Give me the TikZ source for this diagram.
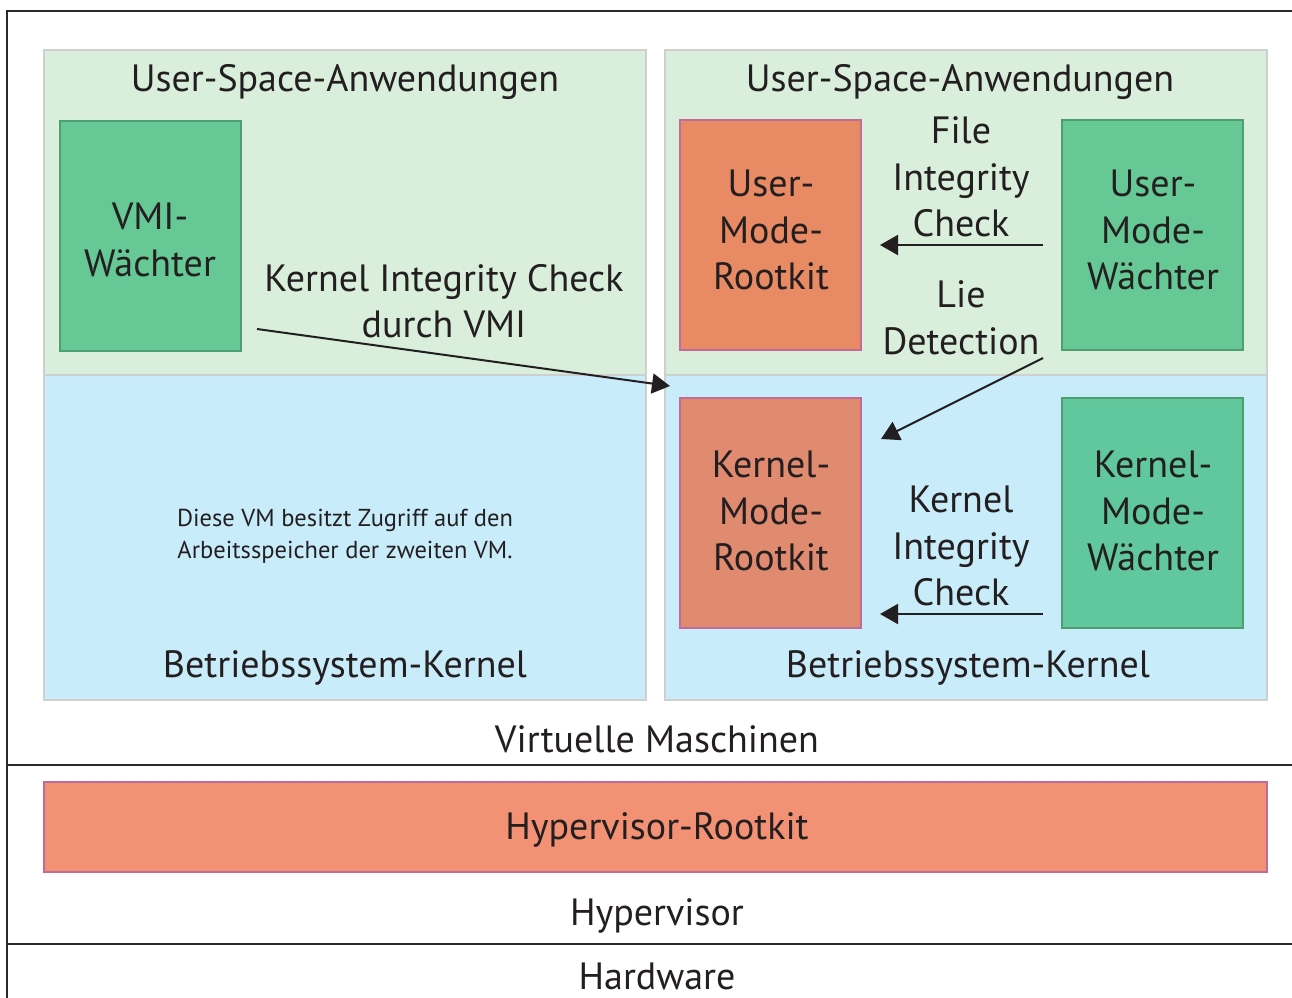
\documentclass[tikz,border=0pt]{standalone}
\usepackage{fontspec}
\setmainfont{PT Sans}
\usetikzlibrary{arrows.meta}
\definecolor{lgreen}{HTML}{D9EEDB}
\definecolor{lblue}{HTML}{C9ECFA}
\definecolor{gbox}{HTML}{66C995}
\definecolor{gboxk}{HTML}{61C79C}
\definecolor{gborder}{HTML}{4E9E72}
\definecolor{urk}{HTML}{E88A63}
\definecolor{krk}{HTML}{E08A70}
\definecolor{hrk}{HTML}{F39174}
\definecolor{pborder}{HTML}{C06C9A}
\definecolor{vmborder}{HTML}{CFCFCF}
\definecolor{frame}{HTML}{2A2A2A}
\definecolor{txt}{HTML}{231F20}
\tikzset{
  vmarea/.style={draw=vmborder, line width=2pt, minimum width=602pt, minimum height=325pt, inner sep=0pt},
  wbox/.style={draw=gborder, line width=2pt, fill=gbox, minimum width=181pt, minimum height=230pt, inner sep=0pt},
  rbox/.style={draw=pborder, line width=2pt, minimum width=181pt, minimum height=230pt, inner sep=0pt},
  big/.style={font=\fontsize{38}{46.5}\selectfont, text=txt, align=center, inner sep=0pt},
  small/.style={font=\fontsize{24.5}{32}\selectfont, text=txt, align=center, inner sep=0pt},
  arr/.style={draw=txt, line width=2pt, -{Triangle[length=18pt,width=20pt]}},
  frameline/.style={draw=frame, line width=2.5pt}
}
\begin{document}
\begin{tikzpicture}[x=1pt,y=-1pt]
\useasboundingbox (0,0) rectangle (1292,997);
\fill[white] (0,0) rectangle (1292,997);
% outer frame
\coordinate (ftl) at (7,11);
\coordinate (ftr) at (1300,11);
\coordinate (fbl) at (7,1005);
\coordinate (h1l) at (7,765);
\coordinate (h1r) at (1300,765);
\coordinate (h2l) at (7,944);
\coordinate (h2r) at (1300,944);
\draw[frameline] (fbl) -- (ftl) -- (ftr);
\draw[frameline] (h1l) -- (h1r);
\draw[frameline] (h2l) -- (h2r);
% VM areas
\node[vmarea, fill=lgreen] (lus) at (345,212.5) {};
\node[vmarea, fill=lblue] (lks) at (345,537.5) {};
\node[vmarea, fill=lgreen] (rus) at (966,212.5) {};
\node[vmarea, fill=lblue] (rks) at (966,537.5) {};
% boxes
\node[wbox] (vmiw) at (150.5,235.5) {};
\node[rbox, fill=urk] (umr) at (770.5,234.5) {};
\node[wbox] (umw) at (1152.5,234.5) {};
\node[rbox, fill=krk] (kmr) at (770.5,512.5) {};
\node[wbox, fill=gboxk] (kmw) at (1152.5,512.5) {};
\node[draw=pborder, line width=2pt, fill=hrk, minimum width=1223pt, minimum height=90pt, inner sep=0pt] (hvr) at (655.5,827) {};
% texts
\node[big] (t1) at (345,82) {User-Space-Anwendungen};
\node[big] (t2) at (960,82) {User-Space-Anwendungen};
\node[big] (t3) at (150,240) {VMI-\\Wächter};
\node[big] (t4) at (444,301) {Kernel Integrity Check\\durch VMI};
\node[big] (t5) at (961,177) {File\\Integrity\\Check};
\node[big] (t6) at (961,318) {Lie\\Detection};
\node[big] (t7) at (771,230) {User-\\Mode-\\Rootkit};
\node[big] (t8) at (1153,230) {User-\\Mode-\\Wächter};
\node[big] (t9) at (771,511) {Kernel-\\Mode-\\Rootkit};
\node[big] (t10) at (961,546) {Kernel\\Integrity\\Check};
\node[big] (t11) at (1153,511) {Kernel-\\Mode-\\Wächter};
\node[small] (t12) at (345,536) {Diese VM besitzt Zugriff auf den\\Arbeitsspeicher der zweiten VM.};
\node[big] (t13) at (345,668) {Betriebssystem-Kernel};
\node[big] (t14) at (968,668) {Betriebssystem-Kernel};
\node[big] (t15) at (657,739) {Virtuelle Maschinen};
\node[big] (t16) at (657,830) {Hypervisor-Rootkit};
\node[big] (t17) at (657,916) {Hypervisor};
\node[big] (t18) at (657,976) {Hardware};
% arrows
\coordinate (a1s) at (257,329);
\coordinate (a1e) at (670,386);
\coordinate (a2s) at (1043,245);
\coordinate (a2e) at (880,245);
\coordinate (a3s) at (1043,358);
\coordinate (a3e) at (881,439);
\coordinate (a4s) at (1043,614);
\coordinate (a4e) at (880,614);
\draw[arr] (a1s) -- (a1e);
\draw[arr] (a2s) -- (a2e);
\draw[arr] (a3s) -- (a3e);
\draw[arr] (a4s) -- (a4e);
\end{tikzpicture}
\end{document}
